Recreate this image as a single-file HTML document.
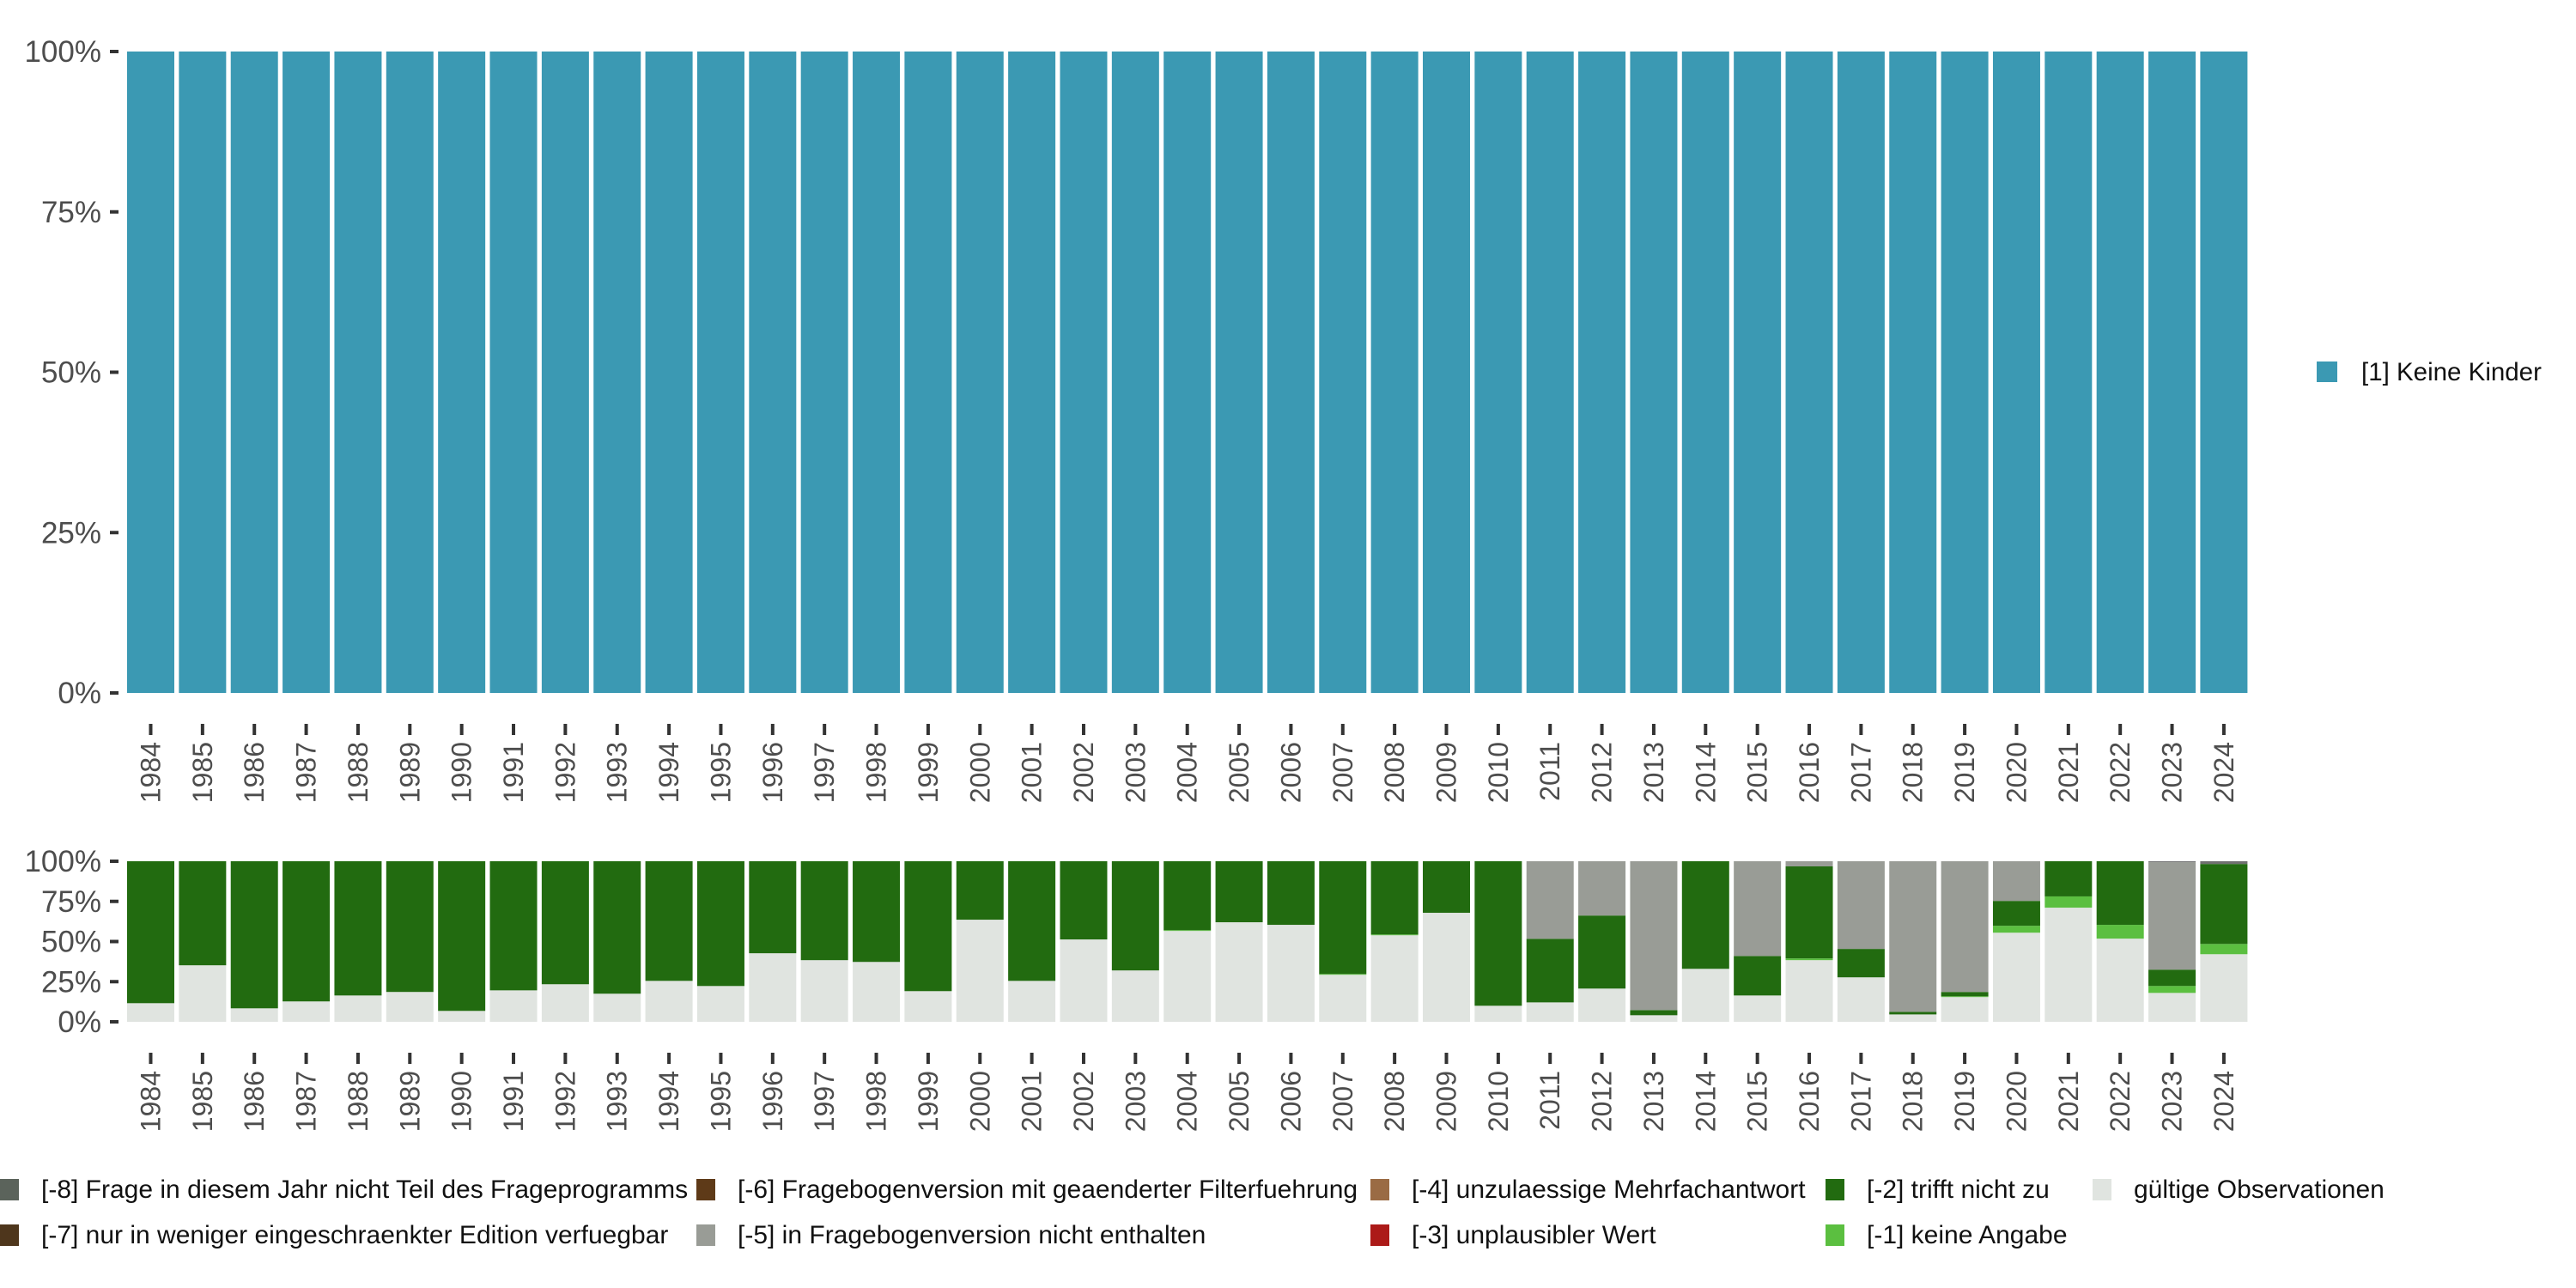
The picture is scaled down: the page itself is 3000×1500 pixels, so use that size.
<!DOCTYPE html>
<html><head><meta charset="utf-8"><style>
html,body{margin:0;padding:0;background:#fff;}
svg{display:block;font-family:"Liberation Sans",sans-serif;}
</style></head><body>
<svg id="chart" width="3000" height="1500" viewBox="0 0 3000 1500" xmlns="http://www.w3.org/2000/svg">
<g id="top"></g>
<g id="bot"></g>
<g id="legend-right">
<rect x="2698" y="421" width="24" height="24" fill="#3b99b3"/>
<text x="2750" y="443" font-size="29.5" fill="#111">[1] Keine Kinder</text>
</g>
<g id="legend-bottom"></g>
</svg>
<script>
const years = [];
for (let y = 1984; y <= 2024; y++) years.push(String(y));
const topValues = years.map(() => 100);
const yTicks = [0, 25, 50, 75, 100];
const yTickLabels = ["0%", "25%", "50%", "75%", "100%"];
const valid = [11.6,35.2,8.4,12.7,16.4,18.6,6.8,19.6,23.4,17.5,25.5,22.3,42.7,38.4,37.3,19.1,63.6,25.5,51.3,32.0,56.6,62.0,60.4,29.3,53.9,67.9,10.0,12.1,20.7,4.1,33.0,16.4,38.4,27.7,4.6,15.4,55.5,71.1,51.8,18.0,42.1];
const noAnswer = [0,0,0,0,0,0,0,0,0,0,0,0,0,0,0,0,0,0,0,0,0.5,0,0,0.5,0.5,0,0,0,0,0,0,0,1.1,0,0,0.5,4.3,7.0,8.6,4.3,6.4];
const notApplicable = [88.4,64.8,91.6,87.3,83.6,81.4,93.2,80.4,76.6,82.5,74.5,77.7,57.3,61.6,62.7,80.9,36.4,74.5,48.7,68.0,42.9,38.0,39.6,70.2,45.6,32.1,90.0,39.6,45.5,3.2,67.0,24.6,57.3,17.7,1.6,2.7,15.5,21.9,39.6,10.2,49.8];
const notInVersion = [0,0,0,0,0,0,0,0,0,0,0,0,0,0,0,0,0,0,0,0,0,0,0,0,0,0,0,48.3,33.8,92.7,0,59.0,3.2,54.6,93.8,81.4,24.7,0,0,67.0,0];
const notInProgram = [0,0,0,0,0,0,0,0,0,0,0,0,0,0,0,0,0,0,0,0,0,0,0,0,0,0,0,0,0,0,0,0,0,0,0,0,0,0,0,0.5,1.7];
const seriesNames = ["gueltig","keine-angabe","trifft-nicht-zu","nicht-enthalten","nicht-teil"];
const seriesColors = ["#e0e4e0","#5bbf40","#226b10","#999c96","#707070"];
const seriesData = [valid, noAnswer, notApplicable, notInVersion, notInProgram];

const NS = "http://www.w3.org/2000/svg";
function el(tag, attrs, parent, txt) {
  const e = document.createElementNS(NS, tag);
  for (const k in attrs) e.setAttribute(k, attrs[k]);
  if (txt !== undefined) e.textContent = txt;
  parent.appendChild(e);
  return e;
}
const c0 = 175.5, step = 60.36, bw = 55;
function xC(i) { return c0 + i * step; }

function axes(g, y0, y1, name) {
  const yS = v => y0 - (v / 100) * (y0 - y1);
  yTicks.forEach((t, i) => {
    const tk = el("line", {x1:128, x2:138, y1:yS(t), y2:yS(t), stroke:"#333", "stroke-width":4}, g);
    
    
    const lb = el("text", {x:118, y:yS(t)+12, "text-anchor":"end", "font-size":35, fill:"#4d4d4d"}, g, yTickLabels[i]);
    
    
  });
  years.forEach((yr, i) => {
    const x = xC(i);
    const tk = el("line", {x1:x, x2:x, y1:y0+36, y2:y0+49, stroke:"#333", "stroke-width":4}, g);
    
    
    const lb = el("text", {x:0, y:0, "text-anchor":"end", "font-size":32, fill:"#4d4d4d", transform:`translate(${x+11},${y0+57}) rotate(-90)`}, g, yr);
    
    
  });
  return yS;
}

const gT = document.getElementById("top");
const yT = axes(gT, 807, 60, "top");
topValues.forEach((v, i) => {
  const r = el("rect", {x:xC(i)-bw/2, y:yT(v), width:bw, height:yT(0)-yT(v), fill:"#3b99b3"}, gT);
  
  
});

const gB = document.getElementById("bot");
const yB = axes(gB, 1190, 1003, "bottom");
years.forEach((yr, i) => {
  let acc = 0;
  seriesData.forEach((arr, s) => {
    const v = arr[i];
    if (v <= 0) return;
    const r = el("rect", {x:xC(i)-bw/2, y:yB(acc+v), width:bw, height:yB(acc)-yB(acc+v), fill:seriesColors[s]}, gB);
    
    
    acc += v;
  });
});

const legendItems = [
  ["[-8] Frage in diesem Jahr nicht Teil des Frageprogramms","#5b635b",0,1373],
  ["[-7] nur in weniger eingeschraenkter Edition verfuegbar","#4e361c",0,1426],
  ["[-6] Fragebogenversion mit geaenderter Filterfuehrung","#5e3a18",811,1373],
  ["[-5] in Fragebogenversion nicht enthalten","#999c96",811,1426],
  ["[-4] unzulaessige Mehrfachantwort","#9a6b44",1596,1373],
  ["[-3] unplausibler Wert","#ac1a18",1596,1426],
  ["[-2] trifft nicht zu","#226b10",2126,1373],
  ["[-1] keine Angabe","#5bbf40",2126,1426],
  ["gültige Observationen","#e0e4e0",2437,1373]
];
const gL = document.getElementById("legend-bottom");
legendItems.forEach(([t, c, x, y]) => {
  const k = el("rect", {x:x, y:y, width:22, height:25, fill:c}, gL);
  
  
  const lb = el("text", {x:x+48, y:y+22, "font-size":30, fill:"#111"}, gL, t);
  
  
});
</script>
</body></html>
